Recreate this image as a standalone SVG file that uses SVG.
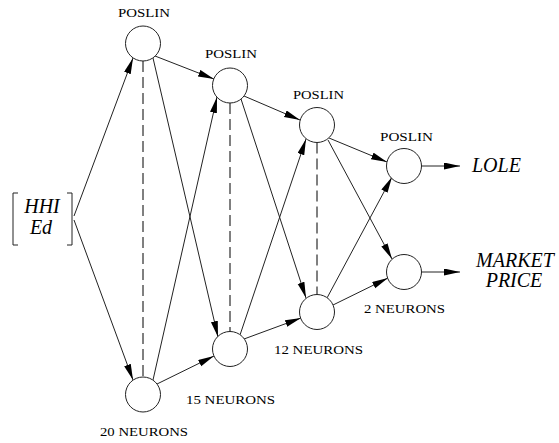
<svg xmlns="http://www.w3.org/2000/svg" width="559" height="443" viewBox="0 0 559 443">
<style>
.n{fill:#fff;stroke:#222;stroke-width:1}
.c{stroke:#222;stroke-width:1;fill:none}
.a{marker-end:url(#ah)}
.d{stroke-dasharray:11 5;stroke:#000}
.t{font-family:'Liberation Serif','DejaVu Serif',serif;font-size:13px;fill:#000}
.i{font-family:'Liberation Serif','DejaVu Serif',serif;font-style:italic;font-size:20px;fill:#000}
</style>
<defs>
<marker id="ah" markerUnits="userSpaceOnUse" markerWidth="17" markerHeight="8" refX="16" refY="3.5" orient="auto">
<path d="M0,0 L16,3.5 L0,7 z" fill="#000"/>
</marker>
</defs>
<rect width="559" height="443" fill="#fff"/>
<g id="connectors">
<line class="c a" x1="74" y1="216" x2="133" y2="58"/>
<line class="c a" x1="74" y1="220" x2="133" y2="380"/>
<line class="c a" x1="155" y1="56" x2="214" y2="79"/>
<line class="c a" x1="153" y1="58" x2="218" y2="337"/>
<line class="c a" x1="153" y1="380" x2="217" y2="97"/>
<line class="c a" x1="157" y1="384" x2="214" y2="356"/>
<line class="c d" x1="143" y1="61" x2="143" y2="377"/>
<line class="c a" x1="244" y1="96" x2="300" y2="120"/>
<line class="c a" x1="241" y1="99" x2="306" y2="298"/>
<line class="c a" x1="240" y1="335" x2="306" y2="139"/>
<line class="c a" x1="244" y1="339" x2="301" y2="318"/>
<line class="c d" x1="230" y1="103" x2="230" y2="331.5"/>
<line class="c a" x1="329" y1="138" x2="387" y2="162"/>
<line class="c a" x1="328" y1="140" x2="392" y2="259"/>
<line class="c a" x1="327" y1="298" x2="392" y2="177"/>
<line class="c a" x1="333" y1="305" x2="388" y2="278"/>
<line class="c d" x1="317" y1="142.5" x2="317" y2="294.5"/>
<line class="c a" x1="421.5" y1="166" x2="460" y2="166"/>
<line class="c a" x1="421.5" y1="272" x2="460" y2="272"/>
</g>
<g id="input">
<path class="c" d="M18,193 H13 V245 H18"/>
<path class="c" d="M67,193 H72 V245 H67"/>
<text class="i" x="42" y="213" text-anchor="middle">HHI</text>
<text class="i" x="41" y="234" text-anchor="middle">Ed</text>
</g>
<g id="n1a"><circle class="n" cx="143" cy="43.5" r="17.5"/><text class="t" x="118" y="17" textLength="52" lengthAdjust="spacingAndGlyphs">POSLIN</text></g>
<g id="n1b"><circle class="n" cx="143" cy="394.5" r="17.5"/><text class="t" x="100" y="436" textLength="88" lengthAdjust="spacingAndGlyphs">20 NEURONS</text></g>
<g id="n2a"><circle class="n" cx="230" cy="85.5" r="17.5"/><text class="t" x="205" y="58" textLength="52" lengthAdjust="spacingAndGlyphs">POSLIN</text></g>
<g id="n2b"><circle class="n" cx="230" cy="349" r="17.5"/><text class="t" x="186" y="404" textLength="89" lengthAdjust="spacingAndGlyphs">15 NEURONS</text></g>
<g id="n3a"><circle class="n" cx="317" cy="125" r="17.5"/><text class="t" x="293" y="99" textLength="51" lengthAdjust="spacingAndGlyphs">POSLIN</text></g>
<g id="n3b"><circle class="n" cx="317" cy="312" r="17.5"/><text class="t" x="274" y="354" textLength="89" lengthAdjust="spacingAndGlyphs">12 NEURONS</text></g>
<g id="n4a"><circle class="n" cx="404" cy="166" r="17.5"/><text class="t" x="380" y="141" textLength="53" lengthAdjust="spacingAndGlyphs">POSLIN</text></g>
<g id="n4b"><circle class="n" cx="404" cy="272" r="17.5"/><text class="t" x="364" y="313" textLength="81" lengthAdjust="spacingAndGlyphs">2 NEURONS</text></g>
<g id="outputs">
<text class="i" x="472" y="172" font-size="21">LOLE</text>
<text class="i" x="515" y="267" text-anchor="middle" font-size="21">MARKET</text>
<text class="i" x="514" y="287" text-anchor="middle" font-size="21">PRICE</text>
</g>
</svg>
